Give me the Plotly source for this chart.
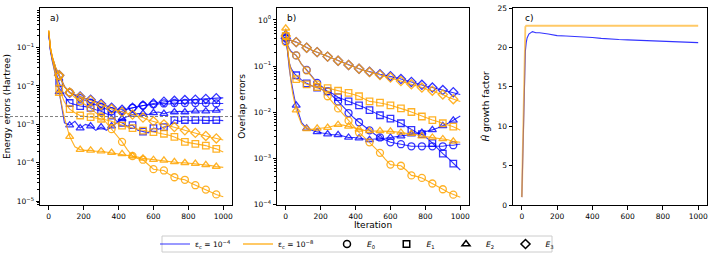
import plotly.graph_objects as go

W, H = 713, 257

# ---------------- data ----------------
iters = [0, 10, 20, 30, 40, 50] + list(range(60, 90, 30)) + list(range(90, 1000, 30)) + [1000]

# Panel a: energy errors (Hartree); b = eps_c 1e-4 (blue), o = eps_c 1e-8 (orange)
ea_b0 = [0.25, 0.09, 0.055, 0.038, 0.028, 0.022,
         0.018, 0.0098, 0.0068, 0.0056, 0.0048, 0.0042, 0.0037, 0.0033, 0.0029, 0.0025,
         0.0022, 0.0021, 0.0022, 0.0025, 0.0027, 0.0029, 0.0031, 0.0032, 0.0033, 0.0034,
         0.0035, 0.0034, 0.0036, 0.0035, 0.0036, 0.0036, 0.0036, 0.0035, 0.0036, 0.0035,
         0.0035, 0.0035, 0.0035]
ea_b1 = [0.24, 0.085, 0.05, 0.033, 0.024, 0.017,
         0.012, 0.0055, 0.0036, 0.0033, 0.003, 0.0029, 0.0027, 0.0024, 0.0022, 0.0019,
         0.0017, 0.0012, 0.0011, 0.0009, 0.00095, 0.0007, 0.00065, 0.0006, 0.0008, 0.00075,
         0.00085, 0.0009, 0.0013, 0.0012, 0.0013, 0.00125, 0.0013, 0.00128, 0.0013, 0.00125,
         0.0013, 0.00125, 0.00125]
ea_b2 = [0.24, 0.08, 0.045, 0.028, 0.018, 0.012,
         0.007, 0.0011, 0.00095, 0.0012, 0.0008, 0.001, 0.0009, 0.0007, 0.00085, 0.0007,
         0.0009, 0.0011, 0.0014, 0.0016, 0.0018, 0.0019, 0.0019, 0.0018, 0.002, 0.0021,
         0.0019, 0.0021, 0.0021, 0.0022, 0.0021, 0.0022, 0.0022, 0.0022, 0.0022, 0.0023,
         0.0023, 0.0024, 0.0024]
ea_b3 = [0.26, 0.09, 0.056, 0.04, 0.03, 0.024,
         0.019, 0.0095, 0.0066, 0.0058, 0.0053, 0.0047, 0.0044, 0.0039, 0.0034, 0.003,
         0.0027, 0.0025, 0.0024, 0.0025, 0.0027, 0.0029, 0.0031, 0.0033, 0.0035, 0.0037,
         0.0039, 0.004, 0.0041, 0.0042, 0.0043, 0.0044, 0.0044, 0.0045, 0.0046, 0.0047,
         0.0048, 0.0049, 0.0049]
ea_o0 = [0.28, 0.1, 0.06, 0.04, 0.03, 0.023,
         0.018, 0.0095, 0.0068, 0.005, 0.004, 0.0033, 0.0026, 0.002, 0.0016, 0.0011,
         0.00075, 0.0005, 0.00035, 0.00022, 0.00015, 0.00013, 0.00012, 0.00009, 0.000068, 0.000065,
         0.000063, 0.00005, 0.000042, 0.000038, 0.000036, 0.00003, 0.000026, 0.000023, 0.00002, 0.000017,
         0.000015, 0.0000135, 0.000013]
ea_o1 = [0.27, 0.095, 0.055, 0.035, 0.024, 0.015,
         0.0085, 0.0038, 0.0025, 0.002, 0.0017, 0.0016, 0.00155, 0.0015, 0.0014, 0.0013,
         0.0012, 0.00105, 0.00093, 0.00086, 0.0008, 0.00074, 0.00069, 0.00066, 0.00063, 0.0006,
         0.00057, 0.00052, 0.00047, 0.0004, 0.00035, 0.00033, 0.00031, 0.0003, 0.00028, 0.00025,
         0.00023, 0.0002, 0.00019]
ea_o2 = [0.27, 0.09, 0.05, 0.03, 0.02, 0.012,
         0.0063, 0.0015, 0.00048, 0.00026, 0.00022, 0.00021, 0.00021, 0.0002, 0.0002, 0.00019,
         0.000185, 0.000178, 0.00017, 0.00016, 0.00015, 0.00014, 0.00013, 0.000125, 0.00012, 0.000118,
         0.000115, 0.00011, 0.000105, 0.0001, 0.0001, 0.000097, 0.000095, 0.000092, 0.000088, 0.000084,
         0.00008, 0.000077, 0.000076]
ea_o3 = [0.28, 0.1, 0.058, 0.04, 0.03, 0.024,
         0.019, 0.0095, 0.0068, 0.006, 0.0052, 0.0047, 0.0042, 0.0037, 0.0032, 0.0028,
         0.0025, 0.0023, 0.0021, 0.0019, 0.0018, 0.0016, 0.0015, 0.0013, 0.0012, 0.0011,
         0.001, 0.00092, 0.00085, 0.00077, 0.0007, 0.00065, 0.0006, 0.00055, 0.0005, 0.00046,
         0.00043, 0.0004, 0.00039]

# Panel b: overlap errors
ob_b0 = [0.35, 0.28, 0.24, 0.21, 0.19, 0.18,
         0.17, 0.11, 0.082, 0.058, 0.043, 0.035, 0.028, 0.022, 0.017, 0.013,
         0.0095, 0.0075, 0.006, 0.0049, 0.004, 0.0033, 0.0028, 0.0025, 0.0022, 0.0021,
         0.002, 0.0019, 0.0018, 0.0018, 0.0018, 0.0018, 0.0018, 0.0018, 0.0018, 0.0019,
         0.0019, 0.002, 0.002]
ob_b1 = [0.42, 0.2, 0.12, 0.09, 0.075, 0.068,
         0.063, 0.05, 0.042, 0.037, 0.034, 0.031, 0.028, 0.025, 0.021, 0.019,
         0.017, 0.0155, 0.014, 0.0125, 0.011, 0.0095, 0.0085, 0.0078, 0.0072, 0.0064,
         0.0057, 0.0049, 0.0041, 0.0036, 0.0033, 0.0027, 0.0021, 0.0016, 0.00125, 0.001,
         0.00076, 0.0006, 0.00055]
ob_b2 = [0.5, 0.2, 0.09, 0.05, 0.03, 0.02,
         0.014, 0.006, 0.0044, 0.004, 0.0037, 0.0035, 0.0033, 0.0032, 0.0032, 0.003,
         0.0028, 0.0028, 0.0027, 0.0026, 0.0025, 0.0026, 0.0027, 0.0027, 0.0028, 0.0029,
         0.003, 0.0031, 0.0033, 0.0034, 0.0036, 0.0038, 0.0041, 0.0045, 0.005, 0.0057,
         0.0066, 0.0078, 0.0082]
ob_b3 = [0.4, 0.38, 0.37, 0.36, 0.35, 0.34,
         0.33, 0.29, 0.25, 0.22, 0.2, 0.18, 0.16, 0.145, 0.13, 0.117,
         0.105, 0.095, 0.087, 0.081, 0.075, 0.07, 0.066, 0.063, 0.06, 0.056,
         0.052, 0.048, 0.045, 0.042, 0.039, 0.036, 0.034, 0.032, 0.03, 0.028,
         0.027, 0.025, 0.024]
ob_o0 = [0.33, 0.27, 0.23, 0.2, 0.19, 0.18,
         0.17, 0.11, 0.08, 0.055, 0.04, 0.03, 0.022, 0.016, 0.012, 0.0088,
         0.0065, 0.0048, 0.0036, 0.0028, 0.0022, 0.0017, 0.0013, 0.00095, 0.00072, 0.0007,
         0.00068, 0.00055, 0.00042, 0.0004, 0.00037, 0.00032, 0.00028, 0.00025, 0.00021, 0.00018,
         0.00016, 0.000145, 0.00014]
ob_o1 = [0.45, 0.22, 0.12, 0.085, 0.068, 0.058,
         0.052, 0.045, 0.04, 0.037, 0.035, 0.034, 0.033, 0.031, 0.029, 0.027,
         0.026, 0.024, 0.022, 0.019, 0.017, 0.0165, 0.016, 0.015, 0.014, 0.013,
         0.012, 0.011, 0.01, 0.009, 0.008, 0.0073, 0.0067, 0.0062, 0.0057, 0.0052,
         0.0048, 0.0042, 0.004]
ob_o2 = [0.66, 0.25, 0.1, 0.045, 0.025, 0.016,
         0.011, 0.0055, 0.0043, 0.0042, 0.0044, 0.0045, 0.0046, 0.005, 0.0053, 0.0052,
         0.0049, 0.0045, 0.0042, 0.004, 0.0039, 0.0039, 0.0039, 0.0038, 0.0038, 0.0037,
         0.0036, 0.0035, 0.0034, 0.0032, 0.003, 0.0029, 0.0028, 0.0027, 0.0026, 0.0025,
         0.0023, 0.0022, 0.0022]
ob_o3 = [0.45, 0.4, 0.38, 0.36, 0.35, 0.34,
         0.33, 0.29, 0.25, 0.22, 0.2, 0.18, 0.16, 0.145, 0.13, 0.117,
         0.105, 0.095, 0.087, 0.08, 0.074, 0.069, 0.064, 0.06, 0.056, 0.051,
         0.047, 0.043, 0.04, 0.037, 0.034, 0.031, 0.029, 0.026, 0.024, 0.021,
         0.019, 0.0175, 0.017]

# Panel c: H growth factor
c_iters = [0, 5, 10, 15, 20, 25, 30, 40, 50, 60, 80, 100, 150, 200, 250, 300, 350, 400,
           450, 500, 550, 600, 650, 700, 750, 800, 850, 900, 950, 1000]
gf_b = [1, 6, 13, 17.5, 19.5, 20.6, 21.2, 21.7, 21.9, 22.0, 21.85, 21.85, 21.7, 21.5, 21.45,
        21.4, 21.35, 21.25, 21.15, 21.05, 21.0, 20.95, 20.9, 20.85, 20.8, 20.75, 20.7, 20.68,
        20.65, 20.6]
gf_o = [1, 7, 15, 20.5, 22.6, 22.75, 22.75, 22.75, 22.75, 22.75, 22.75, 22.75, 22.75, 22.75,
        22.75, 22.75, 22.75, 22.75, 22.75, 22.75, 22.75, 22.75, 22.75, 22.75, 22.75, 22.75,
        22.75, 22.75, 22.75, 22.75]

chem_acc = 0.0016
state_labels = ["<i>E</i><sub>0</sub>", "<i>E</i><sub>1</sub>", "<i>E</i><sub>2</sub>", "<i>E</i><sub>3</sub>"]
eps_labels = ["ε<sub>c</sub> = 10<sup>−4</sup>", "ε<sub>c</sub> = 10<sup>−8</sup>"]

# ---------------- style ----------------
BLUE = "rgba(0,0,255,0.8)"
ORANGE = "rgba(255,165,0,0.85)"
SYMS = ["circle-open", "square-open", "triangle-up-open", "diamond-open"]
SIZES = [7, 6.5, 7, 7]
FONT = "DejaVu Sans, Arial, sans-serif"

fig = go.Figure()


def add_series(xs, ys, color, sym, size, xa, ya, mark_zero):
    fig.add_trace(go.Scatter(x=xs, y=ys, mode="lines", line=dict(color=color, width=1.1),
                             xaxis=xa, yaxis=ya, showlegend=False, hoverinfo="skip"))
    keep = [(t, v) for t, v in zip(xs, ys) if t % 60 == 0 and (mark_zero or t > 0) and t < 1000]
    fig.add_trace(go.Scatter(x=[t for t, _ in keep], y=[v for _, v in keep], mode="markers",
                             marker=dict(symbol=sym, size=size, color=color, line=dict(width=1.3, color=color)),
                             xaxis=xa, yaxis=ya, showlegend=False, hoverinfo="skip"))


for k, b in enumerate([ea_b0, ea_b1, ea_b2, ea_b3]):
    add_series(iters, b, BLUE, SYMS[k], SIZES[k], "x", "y", False)
for k, o in enumerate([ea_o0, ea_o1, ea_o2, ea_o3]):
    add_series(iters, o, ORANGE, SYMS[k], SIZES[k], "x", "y", False)
for k, b in enumerate([ob_b0, ob_b1, ob_b2, ob_b3]):
    add_series(iters, b, BLUE, SYMS[k], SIZES[k], "x2", "y2", True)
for k, o in enumerate([ob_o0, ob_o1, ob_o2, ob_o3]):
    add_series(iters, o, ORANGE, SYMS[k], SIZES[k], "x2", "y2", True)

fig.add_trace(go.Scatter(x=c_iters, y=gf_b, mode="lines", line=dict(color=BLUE, width=1.1),
                         xaxis="x3", yaxis="y3", showlegend=True, name=eps_labels[0],
                         legend="legend", hoverinfo="skip"))
fig.add_trace(go.Scatter(x=c_iters, y=gf_o, mode="lines", line=dict(color="rgba(255,165,0,0.6)", width=1.8),
                         xaxis="x3", yaxis="y3", showlegend=True, name=eps_labels[1],
                         legend="legend", hoverinfo="skip"))

# legend entries for the state symbols
for lab, sym, sz in zip(state_labels, SYMS, SIZES):
    fig.add_trace(go.Scatter(x=[None], y=[None], mode="markers",
                             marker=dict(symbol=sym, size=sz, color="black", line=dict(width=1.5, color="black")),
                             name=lab, legend="legend2", xaxis="x3", yaxis="y3"))

# ---------------- layout ----------------
ydom = [1 - 205 / H, 1 - 8 / H]
tickfont = dict(size=7.5, color="black", family=FONT)
titlefont = dict(size=9, color="black", family=FONT)
common = dict(showline=True, linecolor="black", linewidth=1, mirror=True, ticks="outside",
              ticklen=3.5, tickwidth=1, tickcolor="black", showgrid=False, zeroline=False,
              tickfont=tickfont, automargin=False)


def minor_vals(lo, hi):
    return [m * 10 ** e for e in range(lo, hi) for m in range(2, 10)]


def sup(e):
    return "10<sup>" + ("−" + str(-e) if e < 0 else str(e)) + "</sup>"


xt = [0, 200, 400, 600, 800, 1000]
fig.update_layout(
    width=W, height=H, margin=dict(l=0, r=0, t=0, b=0, autoexpand=False),
    paper_bgcolor="white", plot_bgcolor="white",
    font=dict(family=FONT, color="black"),
    xaxis=dict(domain=[40 / W, 232 / W], range=[-50, 1050], tickvals=xt, anchor="y", **common),
    xaxis2=dict(domain=[277 / W, 469 / W], range=[-50, 1050], tickvals=xt, anchor="y2",
                title=dict(text="Iteration", font=titlefont, standoff=2), **common),
    xaxis3=dict(domain=[513 / W, 707 / W], range=[-50, 1050], tickvals=xt, anchor="y3", **common),
    yaxis=dict(domain=ydom, type="log", range=[-5.1, 0.03], anchor="x",
               tickvals=[10 ** e for e in range(-5, 0)], ticktext=[sup(e) for e in range(-5, 0)],
               minor=dict(tickvals=minor_vals(-6, 0), ticks="outside", ticklen=2, tickcolor="black"),
               title=dict(text="Energy errors (Hartree)", font=titlefont, standoff=4), **common),
    yaxis2=dict(domain=ydom, type="log", range=[-4.02, 0.26], anchor="x2",
                tickvals=[10 ** e for e in range(-4, 1)], ticktext=[sup(e) for e in range(-4, 1)],
                minor=dict(tickvals=minor_vals(-5, 1), ticks="outside", ticklen=2, tickcolor="black"),
                title=dict(text="Overlap errors", font=titlefont, standoff=6), **common),
    yaxis3=dict(domain=ydom, range=[0, 25], anchor="x3", tickvals=[0, 5, 10, 15, 20, 25],
                title=dict(text="<i>Ĥ</i> growth factor", font=titlefont, standoff=6), **common),
    legend=dict(orientation="h", x=155 / W, xanchor="left", y=1 - 244 / H, yanchor="middle",
                font=dict(size=7.5, color="black", family=FONT), entrywidth=38, entrywidthmode="pixels",
                bgcolor="rgba(0,0,0,0)", borderwidth=0),
    legend2=dict(orientation="h", x=327 / W, xanchor="left", y=1 - 244 / H, yanchor="middle",
                 font=dict(size=7.5, color="black", family=FONT), entrywidth=14.5, entrywidthmode="pixels",
                 bgcolor="rgba(0,0,0,0)", borderwidth=0),
    shapes=[
        dict(type="line", xref="paper", yref="y", x0=0, x1=232 / W, y0=chem_acc, y1=chem_acc,
             line=dict(color="gray", width=1, dash="3px,2px")),
        dict(type="rect", xref="paper", yref="paper", x0=162 / W, x1=552 / W, y0=1 - 252 / H,
             y1=1 - 236 / H, line=dict(color="#cccccc", width=1)),
    ],
    annotations=[
        dict(text="a)", xref="x domain", yref="y domain", x=0.04, y=0.985, xanchor="left",
             yanchor="top", showarrow=False, font=titlefont),
        dict(text="b)", xref="x2 domain", yref="y2 domain", x=0.04, y=0.985, xanchor="left",
             yanchor="top", showarrow=False, font=titlefont),
        dict(text="c)", xref="x3 domain", yref="y3 domain", x=0.05, y=0.985, xanchor="left",
             yanchor="top", showarrow=False, font=titlefont),
    ],
)

fig.write_html("out.html", config={"displayModeBar": False},
               post_script="document.body.style.margin='0';")
